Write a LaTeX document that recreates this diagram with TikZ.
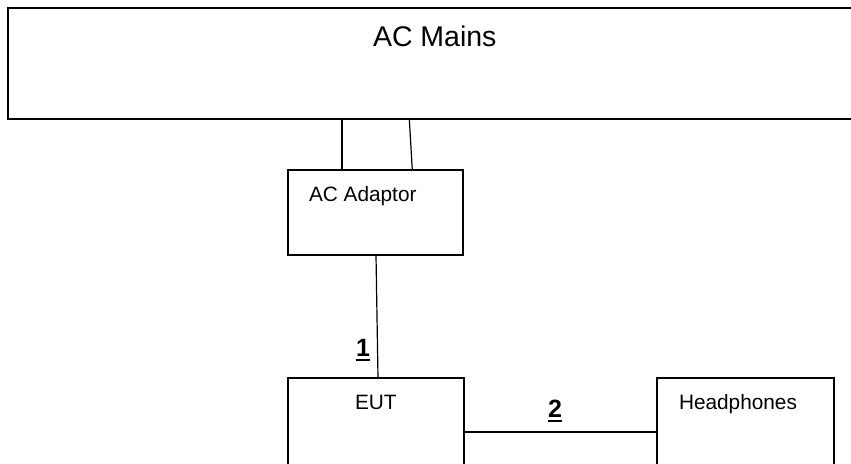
\documentclass[tikz,border=0pt]{standalone}
\usepackage{fontspec}
\setmainfont{Liberation Sans}
\usetikzlibrary{calc}
\newcommand{\ulnum}[1]{\setbox0\hbox{\bfseries #1}\rlap{\rule[-5.3pt]{\wd0}{2.4pt}}\box0}
\begin{document}
\begin{tikzpicture}[x=1pt,y=-1pt,
  box/.style={draw=black,rectangle,inner sep=0pt,outer sep=0pt,line width=1.4pt},
  bigbox/.style={box,line width=2.1pt},
  wire/.style={draw=black,line width=1.2pt},
  lbl/.style={inner sep=0pt,outer sep=0pt,anchor=base west,font=\fontsize{20.8}{24}\selectfont},
  num/.style={inner sep=0pt,outer sep=0pt,anchor=base west,font=\fontsize{25}{28}\selectfont}]
\useasboundingbox (0,0) rectangle (851,463);
\clip (0,0) rectangle (851,463);
% boxes
\node[bigbox,minimum width=892pt,minimum height=111pt] (mains) at (454,63.5) {};
\node[box,minimum width=175pt,minimum height=85pt] (adaptor) at (375.5,212.5) {};
\node[box,minimum width=176pt,minimum height=122pt] (eut) at (376,439) {};
\node[box,minimum width=177pt,minimum height=122pt] (hp) at (745.5,439) {};
% texts
\node[lbl,font=\fontsize{28.5}{32}\selectfont] (tmains) at (373,46) {AC Mains};
\node[lbl] (tadaptor) at (309,201) {AC Adaptor};
\node[lbl] (teut) at (355,409) {EUT};
\node[lbl] (thp) at (679,409) {Headphones};
\node[num] (n1) at (356,356) {\ulnum{1}};
\node[num] (n2) at (548,417) {\ulnum{2}};
% connectors
\draw[wire] ($(mains.south west)+(334,0)$) -- ($(adaptor.north west)+(54,0)$);
\draw[wire] ($(mains.south west)+(401.3,0)$) -- ($(adaptor.north west)+(124.3,0)$);
\draw[wire] ($(adaptor.south west)+(88,0)$) -- ($(eut.north west)+(90,0)$);
\draw[wire] ($(eut.north east)+(0,54)$) -- ($(hp.north west)+(0,54)$);
\end{tikzpicture}
\end{document}
